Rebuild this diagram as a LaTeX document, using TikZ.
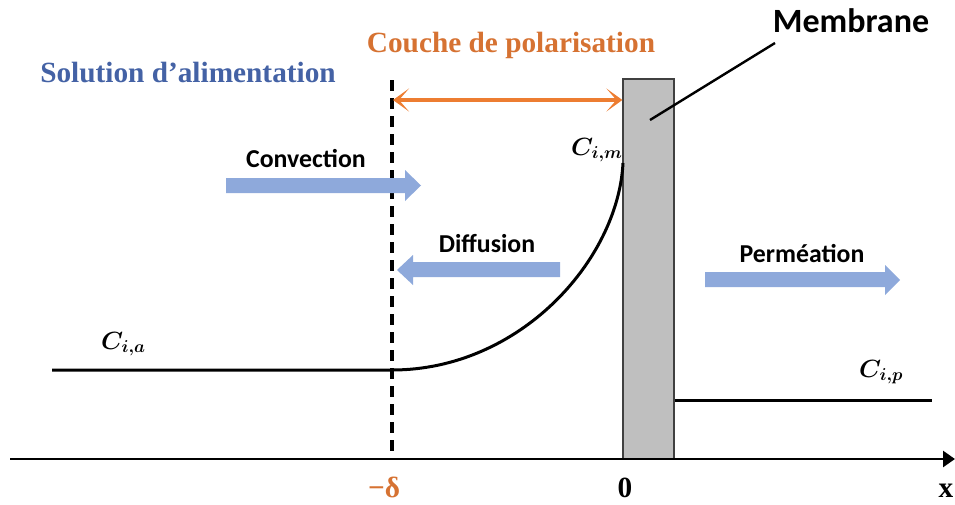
\documentclass[tikz,border=0pt]{standalone}
\usepackage{fontspec}
\setmainfont{Liberation Serif}
\newfontfamily\calib{Carlito}
\usetikzlibrary{arrows.meta}
\definecolor{blueT}{RGB}{68,98,165}
\definecolor{orangeT}{RGB}{214,114,50}
\definecolor{orangeA}{RGB}{237,125,49}
\definecolor{blockblue}{RGB}{142,169,219}
\definecolor{memfill}{RGB}{191,191,191}
\definecolor{memdraw}{RGB}{64,64,64}
\begin{document}
\begin{tikzpicture}[x=1pt,y=-1pt,
  serifbold/.style={font=\fontsize{29.3}{33}\selectfont\bfseries, inner sep=0pt, anchor=base},
  calbold/.style={font=\calib\fontsize{25.8}{30}\selectfont\bfseries, inner sep=0pt, anchor=base},
  conc/.style={font=\fontsize{24}{28}\selectfont\boldmath, inner sep=0pt, anchor=base west},
  curve/.style={line width=3pt, black},
  barrow/.style={fill=blockblue},
]
\useasboundingbox (0,0) rectangle (955,504);

% membrane
\node[draw=memdraw, fill=memfill, line width=1.2pt, minimum width=51pt, minimum height=380pt, inner sep=0pt] (mem) at (648.5,269) {};

% axis
\coordinate (ax0) at (10,459);
\coordinate (ax1) at (955,459);
\draw[line width=2.6pt, -{Triangle[length=12pt,width=16pt]}] (ax0) -- (ax1);

% dashed line at -delta
\coordinate (dtop) at (392,80);
\coordinate (dbot) at (392,459);
\draw[line width=3.4pt, dash pattern=on 11pt off 7pt] (dtop) -- (dbot);

% concentration profile
\coordinate (feed0) at (52,370);
\coordinate (delta) at (392,370);
\coordinate (cm) at (623,163);
\draw[curve] (feed0) -- (delta) .. controls (520,370) and (618,260) .. (cm);
\coordinate (perm1) at (932,400);
\draw[curve] (mem.east |- perm1) -- (perm1);

% polarisation layer arrow
\coordinate (pl0) at (393,100);
\draw[line width=3.2pt, orangeA, {Stealth[length=16pt,width=23pt,inset=10pt]}-{Stealth[length=16pt,width=23pt,inset=10pt]}] (pl0) -- (mem.west |- pl0);

% membrane leader
\coordinate (lead0) at (775,43);
\coordinate (lead1) at (650,120);
\draw[line width=2.4pt] (lead0) -- (lead1);

% block arrows
\fill[barrow] (226,178) -- (405,178) -- (405,170) -- (421,185.5) -- (405,201) -- (405,193) -- (226,193) -- cycle;
\fill[barrow] (560,262) -- (413,262) -- (413,255) -- (397,270) -- (413,285) -- (413,277) -- (560,277) -- cycle;
\fill[barrow] (705,272) -- (885,272) -- (885,265) -- (900,280) -- (885,295) -- (885,287) -- (705,287) -- cycle;

% texts
\node[serifbold, text=blueT] (sol) at (188,82) {Solution d’alimentation};
\node[serifbold, text=orangeT] (couche) at (511,52) {Couche de polarisation};
\node[calbold, font=\calib\fontsize{34}{38}\selectfont\bfseries] (membr) at (851,32) {Membrane};
\node[calbold] (conv) at (306,167) {Convection};
\node[calbold] (diff) at (487,252) {Diffusion};
\node[calbold] (perm) at (802,262) {Perméation};
\node[serifbold, text=orangeT] (mdelta) at (384,497) {−δ};
\node[serifbold] (zero) at (625,497) {0};
\node[serifbold] (xlab) at (946,497) {x};
\node[conc] (cia) at (101,349) {$C_{i,a}$};
\node[conc] (cim) at (571,155) {$C_{i,m}$};
\node[conc] (cip) at (859,377) {$C_{i,p}$};
\end{tikzpicture}
\end{document}
